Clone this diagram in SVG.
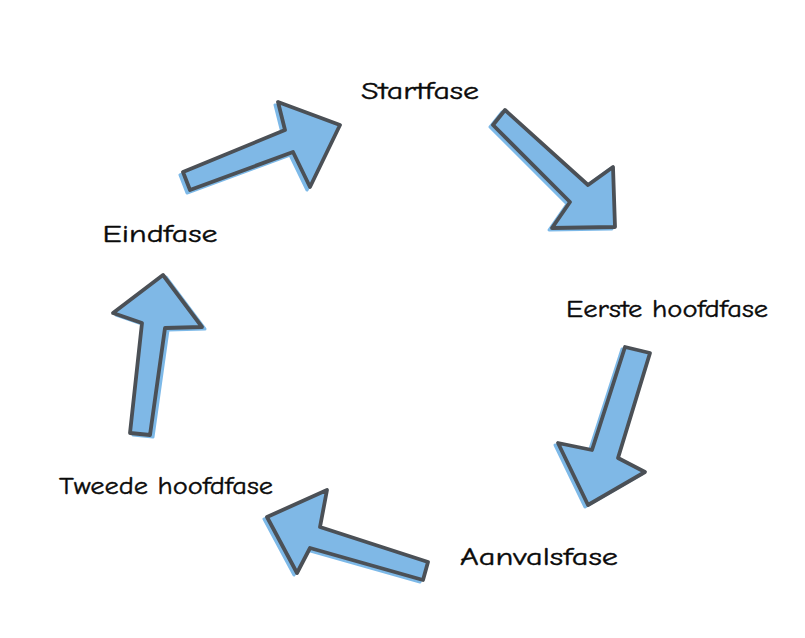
<svg xmlns="http://www.w3.org/2000/svg" width="805" height="638" viewBox="0 0 805 638">
<style>
.sh{fill:#7db9e8;stroke:#7db9e8;stroke-width:3;stroke-linejoin:round}
.ar{fill:#7fb8e6;stroke:#4b5056;stroke-width:3.8;stroke-linejoin:round}
.lb{font-family:"Comic Neue","Liberation Sans","DejaVu Sans",sans-serif;font-size:24px;fill:#0a0a0a;text-anchor:middle;stroke:#0a0a0a;stroke-width:0.4}
</style>
<rect width="805" height="638" fill="#fff"/>
<g id="connectors">
<g id="arrow-start-eerste">
<polygon class="sh" transform="translate(-3,2)" points="505,110 588,185 613,167 615,227 552,228 570,202 493,125"/>
<polygon class="ar" points="505,110 588,185 613,167 615,227 552,228 570,202 493,125"/>
</g>
<g id="arrow-eerste-aanval">
<polygon class="sh" transform="translate(-3,2)" points="625,347 650,353 618,458 645,472 588,505 558,443 592,450"/>
<polygon class="ar" points="625,347 650,353 618,458 645,472 588,505 558,443 592,450"/>
</g>
<g id="arrow-aanval-tweede">
<polygon class="sh" transform="translate(-3,2)" points="428,562 423,580 310,548 297,573 267,517 327,490 320,527"/>
<polygon class="ar" points="428,562 423,580 310,548 297,573 267,517 327,490 320,527"/>
</g>
<g id="arrow-tweede-eind">
<polygon class="sh" transform="translate(3,2)" points="130,433 150,435 165,328 202,327 163,275 113,313 142,323"/>
<polygon class="ar" points="130,433 150,435 165,328 202,327 163,275 113,313 142,323"/>
</g>
<g id="arrow-eind-start">
<polygon class="sh" transform="translate(-3,3)" points="183,172 285,130 278,102 340,125 310,187 293,152 190,190"/>
<polygon class="ar" points="183,172 285,130 278,102 340,125 310,187 293,152 190,190"/>
</g>
</g>
<g id="node-startfase"><text class="lb" x="420" y="99" textLength="118" lengthAdjust="spacingAndGlyphs">Startfase</text></g>
<g id="node-eerste"><text class="lb" x="667" y="317" textLength="202" lengthAdjust="spacingAndGlyphs">Eerste hoofdfase</text></g>
<g id="node-aanvalsfase"><text class="lb" x="539" y="565" textLength="158" lengthAdjust="spacingAndGlyphs">Aanvalsfase</text></g>
<g id="node-tweede"><text class="lb" x="166" y="494" textLength="214" lengthAdjust="spacingAndGlyphs">Tweede hoofdfase</text></g>
<g id="node-eindfase"><text class="lb" x="160" y="242" textLength="115" lengthAdjust="spacingAndGlyphs">Eindfase</text></g>
</svg>
